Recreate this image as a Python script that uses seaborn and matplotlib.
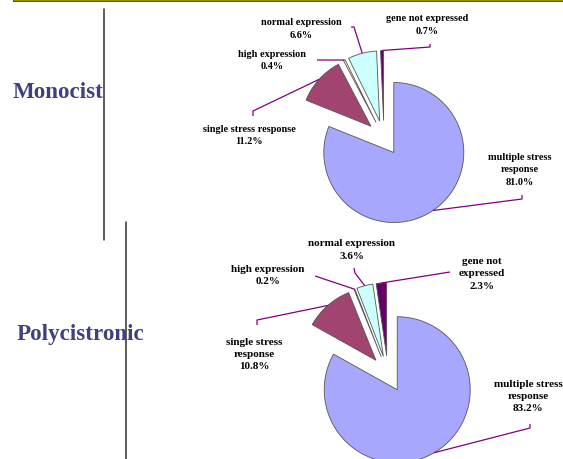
import numpy as np
import matplotlib
matplotlib.use("Agg")
import matplotlib.pyplot as plt
from matplotlib.patches import Rectangle
import seaborn as sns

# ---------------- data ----------------
categories = ["multiple stress response", "single stress response",
              "high expression", "normal expression", "gene not expressed"]
monocist_values = [81.0, 11.2, 0.4, 6.6, 0.7]
polycistronic_values = [83.2, 10.8, 0.2, 3.6, 2.3]
panel_titles = ["Monocist", "Polycistronic"]

mono_labels = ["multiple stress\nresponse\n81.0%", "single stress response\n11.2%",
               "high expression\n0.4%", "normal expression\n6.6%", "gene not expressed\n0.7%"]
poly_labels = ["multiple stress\nresponse\n83.2%", "single stress\nresponse\n10.8%",
               "high expression\n0.2%", "normal expression\n3.6%", "gene not\nexpressed\n2.3%"]

# ---------------- style ----------------
sns.set_theme(style="white")
plt.rcParams["font.family"] = ["Liberation Serif", "DejaVu Serif"]
colors = sns.color_palette(["#A6A7FD", "#A14570", "#FFFFCC", "#CCFFFF", "#660066"])

W, H = 563, 460
fig = plt.figure(figsize=(W / 100, H / 100), dpi=100)
ax = fig.add_axes([0, 0, 1, 1])

def Y(y):
    return H - y

LEAD = "#800080"

def draw_pie(values, labels, center, radius, label_pos, leader_pts, fs):
    wedges, _ = ax.pie(values, colors=colors, startangle=90, counterclock=False,
                       explode=[0.25 * radius] * len(values), center=center, radius=radius,
                       frame=True,
                       wedgeprops=dict(edgecolor="#555555", linewidth=0.6))
    for w, lab, (lx, ly), pts in zip(wedges, labels, label_pos, leader_pts):
        mid = np.deg2rad((w.theta1 + w.theta2) / 2)
        cx, cy = w.center
        ax_ = cx + w.r * np.cos(mid)
        ay_ = cy + w.r * np.sin(mid)
        xs = [p[0] for p in pts] + [ax_]
        ys = [Y(p[1]) for p in pts] + [ay_]
        ax.plot(xs, ys, color=LEAD, lw=0.9, solid_capstyle="butt")
        ax.text(lx, Y(ly), lab, ha="center", va="center", fontsize=fs,
                fontweight="bold", linespacing=1.45, color="black")

# Monocist pie
draw_pie(monocist_values, mono_labels, center=(384, Y(139)), radius=70,
         label_pos=[(520, 170), (249, 135.5), (272, 60.5), (301, 29), (427, 25)],
         leader_pts=[[(522, 196), (522, 200)], [(253, 117), (253, 112)],
                     [(317, 61)], [(351, 28), (354, 28)], [(430, 45), (430, 48)]],
         fs=7.4)

# Polycistronic pie
draw_pie(polycistronic_values, poly_labels, center=(388, Y(375)), radius=73,
         label_pos=[(528, 396.5), (254, 354.5), (268, 275.5), (352, 250), (482, 274)],
         leader_pts=[[(530, 425), (530, 429)], [(257, 326), (257, 321)],
                     [(315, 277)], [(354, 269), (355, 274)], [(450, 273)]],
         fs=8.0)

# panel titles
ax.text(58, Y(93), panel_titles[0], ha="center", va="center", fontsize=16.6,
        fontweight="bold", color="#404080")
ax.text(80, Y(335), panel_titles[1], ha="center", va="center", fontsize=16.6,
        fontweight="bold", color="#404080")

# vertical separators
ax.plot([104, 104], [Y(10), Y(241)], color="#303030", lw=1.1)
ax.plot([126, 126], [Y(223), Y(460)], color="#303030", lw=1.1)

# top decorative bar
ax.add_patch(Rectangle((13, Y(1.8)), W - 13, 1.8, facecolor="#9C8B00", edgecolor="none"))
ax.add_patch(Rectangle((13, Y(2.9)), W - 13, 1.1, facecolor="#4848A8", edgecolor="none"))
ax.add_patch(Rectangle((13, Y(2.9)), 1.2, 2.9, facecolor="#4848A8", edgecolor="none"))

ax.set_xlim(0, W)
ax.set_ylim(0, H)
ax.set_aspect("auto")
ax.axis("off")

fig.savefig("out.png", dpi=100)
